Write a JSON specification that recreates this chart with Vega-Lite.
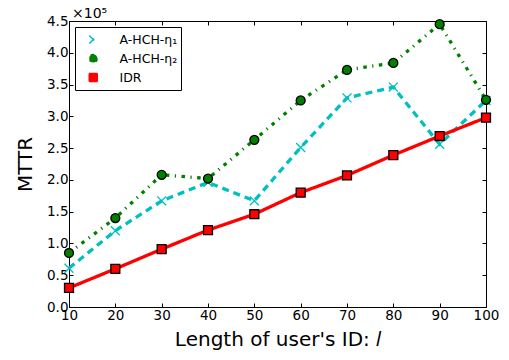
{
  "$schema": "https://vega.github.io/schema/vega-lite/v6.json",
  "width": 417,
  "height": 286,
  "autosize": "none",
  "padding": {"left": 69, "top": 21, "right": 23, "bottom": 53},
  "background": "white",
  "config": {
    "font": "DejaVu Sans",
    "view": {"stroke": "black", "strokeWidth": 1},
    "axis": {
      "grid": false,
      "domain": false,
      "tickColor": "black",
      "tickSize": -4,
      "tickWidth": 1,
      "labelFlush": false,
      "labelOverlap": false,
      "labelColor": "black",
      "labelFontSize": 13.5,
      "labelFont": "DejaVu Sans",
      "titleFont": "DejaVu Sans",
      "titleFontSize": 20,
      "titleFontWeight": "normal",
      "titleColor": "black"
    }
  },
  "title": {
    "text": "×10⁵",
    "anchor": "start",
    "frame": "group",
    "fontSize": 14,
    "fontWeight": "normal",
    "font": "DejaVu Sans",
    "color": "black",
    "offset": 0,
    "dx": 3,
    "dy": 7
  },
  "data": {
    "values": [
      {"x": 10, "series": "A-HCH-η₁", "v": 0.61},
      {"x": 20, "series": "A-HCH-η₁", "v": 1.20},
      {"x": 30, "series": "A-HCH-η₁", "v": 1.67},
      {"x": 40, "series": "A-HCH-η₁", "v": 1.96},
      {"x": 50, "series": "A-HCH-η₁", "v": 1.67},
      {"x": 60, "series": "A-HCH-η₁", "v": 2.51},
      {"x": 70, "series": "A-HCH-η₁", "v": 3.29},
      {"x": 80, "series": "A-HCH-η₁", "v": 3.46},
      {"x": 90, "series": "A-HCH-η₁", "v": 2.56},
      {"x": 100, "series": "A-HCH-η₁", "v": 3.25},
      {"x": 10, "series": "A-HCH-η₂", "v": 0.85},
      {"x": 20, "series": "A-HCH-η₂", "v": 1.40},
      {"x": 30, "series": "A-HCH-η₂", "v": 2.08},
      {"x": 40, "series": "A-HCH-η₂", "v": 2.02},
      {"x": 50, "series": "A-HCH-η₂", "v": 2.63},
      {"x": 60, "series": "A-HCH-η₂", "v": 3.25},
      {"x": 70, "series": "A-HCH-η₂", "v": 3.73},
      {"x": 80, "series": "A-HCH-η₂", "v": 3.84},
      {"x": 90, "series": "A-HCH-η₂", "v": 4.45},
      {"x": 100, "series": "A-HCH-η₂", "v": 3.26},
      {"x": 10, "series": "IDR", "v": 0.30},
      {"x": 20, "series": "IDR", "v": 0.60},
      {"x": 30, "series": "IDR", "v": 0.91},
      {"x": 40, "series": "IDR", "v": 1.21},
      {"x": 50, "series": "IDR", "v": 1.46},
      {"x": 60, "series": "IDR", "v": 1.80},
      {"x": 70, "series": "IDR", "v": 2.07},
      {"x": 80, "series": "IDR", "v": 2.39},
      {"x": 90, "series": "IDR", "v": 2.69},
      {"x": 100, "series": "IDR", "v": 2.98}
    ]
  },
  "resolve": {"axis": {"x": "independent", "y": "independent"}},
  "layer": [
    {
      "mark": {"type": "line", "strokeWidth": 3.3, "clip": false},
      "encoding": {
        "x": {
          "field": "x", "type": "quantitative",
          "scale": {"domain": [10, 100], "nice": false},
          "axis": {"values": [10, 20, 30, 40, 50, 60, 70, 80, 90, 100], "title": "Length of user's ID: 𝑙", "labelPadding": 5, "titlePadding": 8}
        },
        "y": {
          "field": "v", "type": "quantitative",
          "scale": {"domain": [0, 4.5], "nice": false, "zero": false},
          "axis": {"values": [0, 0.5, 1, 1.5, 2, 2.5, 3, 3.5, 4, 4.5], "format": ".1f", "title": "MTTR", "labelPadding": 5, "titlePadding": 11}
        },
        "color": {
          "field": "series", "type": "nominal",
          "scale": {"domain": ["A-HCH-η₁", "A-HCH-η₂", "IDR"], "range": ["#00bfbf", "#008000", "#ff0000"]},
          "legend": {
            "title": null, "orient": "top-left", "offset": 6,
            "strokeColor": "black", "fillColor": "white", "cornerRadius": 0,
            "padding": 3, "labelFontSize": 12.5, "labelColor": "black", "labelFont": "DejaVu Sans",
            "symbolSize": 64, "symbolStrokeWidth": 1.5, "clipHeight": 19, "rowPadding": 0,
            "symbolOffset": 9, "labelOffset": 20,
            "encode": {
              "symbols": {
                "update": {
                  "strokeDash": {"value": [1, 0]}
                }
              }
            }
          }
        },
        "strokeDash": {
          "field": "series", "type": "nominal",
          "scale": {"domain": ["A-HCH-η₁", "A-HCH-η₂", "IDR"], "range": [[7, 5], [3.5, 5.5, 1.2, 5.5], [1, 0]]},
          "legend": null
        }
      }
    },
    {
      "mark": {"type": "point", "filled": true, "size": 80, "opacity": 1, "strokeWidth": 1.3, "clip": false},
      "encoding": {
        "x": {"field": "x", "type": "quantitative", "axis": null},
        "y": {"field": "v", "type": "quantitative", "axis": null},
        "shape": {
          "field": "series", "type": "nominal",
          "scale": {"domain": ["A-HCH-η₁", "A-HCH-η₂", "IDR"], "range": ["M-1,-1L1,1M-1,1L1,-1", "circle", "square"]},
          "legend": null
        },
        "fill": {
          "field": "series", "type": "nominal",
          "scale": {"domain": ["A-HCH-η₁", "A-HCH-η₂", "IDR"], "range": ["#00bfbf", "#008000", "#ff0000"]},
          "legend": null
        },
        "stroke": {
          "field": "series", "type": "nominal",
          "scale": {"domain": ["A-HCH-η₁", "A-HCH-η₂", "IDR"], "range": ["#00bfbf", "#000000", "#000000"]},
          "legend": null
        }
      }
    },
    {
      "mark": {"type": "point", "opacity": 0},
      "encoding": {
        "x": {"field": "x", "type": "quantitative", "axis": {"orient": "top", "labels": false, "title": null, "values": [10, 20, 30, 40, 50, 60, 70, 80, 90, 100]}},
        "y": {"field": "v", "type": "quantitative", "axis": {"orient": "right", "labels": false, "title": null, "values": [0, 0.5, 1, 1.5, 2, 2.5, 3, 3.5, 4, 4.5]}}
      }
    }
  ]
}
